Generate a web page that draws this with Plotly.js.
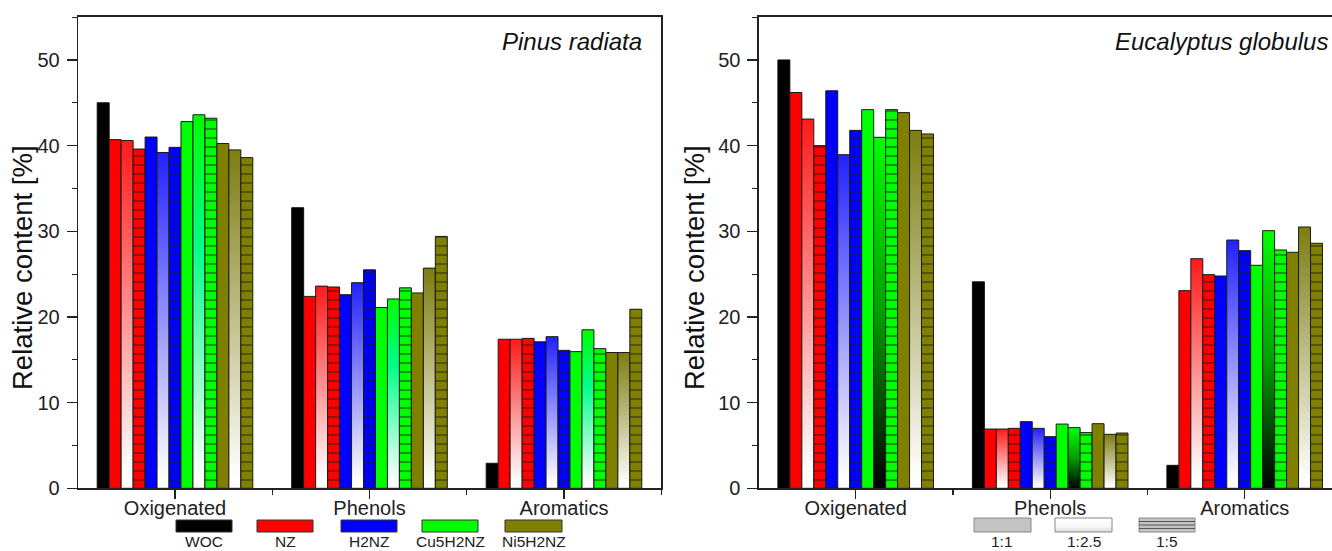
<!DOCTYPE html>
<html>
<head>
<meta charset="utf-8">
<script src="https://cdn.plot.ly/plotly-3.0.1.min.js"></script>
<style>html,body{margin:0;padding:0;background:#fff;}#chart{width:1332px;height:551px;}</style>
</head>
<body>
<div id="chart"></div>
<script>
// ---------- data ----------
const categories = ['Oxigenated', 'Phenols', 'Aromatics'];
const catalysts = ['WOC', 'NZ', 'H2NZ', 'Cu5H2NZ', 'Ni5H2NZ'];
const ratios = ['1:1', '1:2.5', '1:5'];

// Pinus radiata — values per category [Oxigenated, Phenols, Aromatics]
const pinusWOC = [45.0, 32.75, 2.92];
// each catalyst: [ratio 1:1, ratio 1:2.5, ratio 1:5]
const pinusNZ      = [[40.7, 22.4, 17.4], [40.6, 23.6, 17.4], [39.6, 23.5, 17.5]];
const pinusH2NZ    = [[41.0, 22.6, 17.1], [39.2, 24.0, 17.7], [39.8, 25.5, 16.1]];
const pinusCu5H2NZ = [[42.8, 21.1, 15.95], [43.6, 22.1, 18.5], [43.2, 23.4, 16.3]];
const pinusNi5H2NZ = [[40.25, 22.8, 15.85], [39.5, 25.7, 15.85], [38.6, 29.4, 20.9]];

// Eucalyptus globulus
const eucWOC = [50.0, 24.1, 2.68];
const eucNZ      = [[46.2, 6.92, 23.07], [43.1, 6.92, 26.8], [40.0, 7.0, 24.94]];
const eucH2NZ    = [[46.4, 7.78, 24.78], [38.94, 7.0, 28.98], [41.78, 6.03, 27.74]];
const eucCu5H2NZ = [[44.2, 7.5, 26.03], [40.97, 7.08, 30.07], [44.2, 6.5, 27.82]];
const eucNi5H2NZ = [[43.85, 7.54, 27.55], [41.78, 6.3, 30.5], [41.36, 6.45, 28.6]];

const yTitle = 'Relative content [%]';
const panelTitles = ['Pinus radiata', 'Eucalyptus globulus'];

// ---------- styles ----------
const catColors = {WOC: '#000000', NZ: '#ff0000', H2NZ: '#0000ff', Cu5H2NZ: '#00ff00', Ni5H2NZ: '#808000'};
const FONT = 'Liberation Sans, Arial, sans-serif';
const W = 1332, H = 551;
const px = x => x / W;
const py = y => (H - y) / H;

const xIdx = categories.map((c, i) => i);

function makeTraces(panel, wocVals, catData, xa, ya) {
  const traces = [];
  traces.push({
    type: 'bar', x: xIdx, y: wocVals, name: 'WOC', xaxis: xa, yaxis: ya,
    marker: {color: catColors.WOC, line: {color: '#111', width: 1}},
    hovertemplate: '%{y}<extra>WOC</extra>'
  });
  ['NZ', 'H2NZ', 'Cu5H2NZ', 'Ni5H2NZ'].forEach(cat => {
    catData[cat].forEach((vals, r) => {
      const col = catColors[cat];
      const t = {
        type: 'bar', x: xIdx, y: vals, name: cat + ' ' + ratios[r], xaxis: xa, yaxis: ya,
        marker: {color: col, line: {color: '#1a1a1a', width: 1}},
        hovertemplate: '%{y}<extra>' + cat + ' ' + ratios[r] + '</extra>'
      };
      if (r === 1) t.meta = {grad: 'grad_' + panel + '_' + cat};
      if (r === 2) t.marker.pattern = {shape: '-', fillmode: 'overlay', bgcolor: col, fgcolor: '#1a1a1a', fgopacity: 0.85, size: 9, solidity: 0.12};
      traces.push(t);
    });
  });
  return traces;
}

const traces = [].concat(
  makeTraces('L', pinusWOC, {NZ: pinusNZ, H2NZ: pinusH2NZ, Cu5H2NZ: pinusCu5H2NZ, Ni5H2NZ: pinusNi5H2NZ}, 'x', 'y'),
  makeTraces('R', eucWOC, {NZ: eucNZ, H2NZ: eucH2NZ, Cu5H2NZ: eucCu5H2NZ, Ni5H2NZ: eucNi5H2NZ}, 'x2', 'y2')
);

const yTop = 16.5, yBot = 488.3;
const yDomain = [py(yBot), py(yTop)];

function xAxis(domain, range, anchor) {
  return {
    domain: domain, range: range, type: 'linear', anchor: anchor,
    tickmode: 'array', tickvals: xIdx, ticktext: categories,
    ticks: 'outside', ticklen: 9, tickwidth: 1.2, tickcolor: '#222',
    ticklabelstandoff: -8,
    showline: true, linecolor: '#222', linewidth: 1.3, mirror: true,
    showgrid: false, zeroline: false,
    minor: {tickmode: 'array', tickvals: [-0.5, 0.5, 1.5, 2.5], ticks: 'outside', ticklen: 5, tickwidth: 1.2, tickcolor: '#222', showgrid: false},
    tickfont: {family: FONT, size: 20, color: '#222'}, fixedrange: true
  };
}
function yAxis(domain, anchor, mirror) {
  return {
    domain: domain, range: [0, 55.07], anchor: anchor,
    tickmode: 'linear', tick0: 0, dtick: 10,
    ticks: 'outside', ticklen: 10, tickwidth: 1.2, tickcolor: '#222',
    ticklabelstandoff: 3,
    minor: {dtick: 5, ticks: 'outside', ticklen: 5, tickwidth: 1.2, tickcolor: '#222', showgrid: false},
    showline: true, linecolor: '#222', linewidth: 1.3, mirror: mirror,
    showgrid: false, zeroline: false,
    tickfont: {family: FONT, size: 20, color: '#222'},
    fixedrange: true
  };
}

const xL = [78, 661.25], xR = [758.7, 1332];
const cat0L = 175, cat0R = 855.7, unit = 194.5;

const legendCats = [
  {name: 'WOC', x0: 176, x1: 232},
  {name: 'NZ', x0: 257, x1: 313},
  {name: 'H2NZ', x0: 341, x1: 397},
  {name: 'Cu5H2NZ', x0: 422, x1: 478},
  {name: 'Ni5H2NZ', x0: 505, x1: 562}
];
const legendRatios = [
  {name: '1:1', x0: 974, x1: 1031},
  {name: '1:2.5', x0: 1055, x1: 1112},
  {name: '1:5', x0: 1139, x1: 1195}
];

const shapes = [];
const annotations = [];
const legendFont = {family: FONT, size: 15.5, color: '#222'};
legendCats.forEach(l => {
  shapes.push({type: 'rect', xref: 'paper', yref: 'paper', x0: px(l.x0), x1: px(l.x1), y0: py(532), y1: py(520),
    fillcolor: catColors[l.name], line: {color: '#333', width: 1}});
  annotations.push({xref: 'paper', yref: 'paper', x: px((l.x0 + l.x1) / 2), y: py(551), text: l.name, showarrow: false,
    xanchor: 'center', yanchor: 'bottom', borderpad: 0, font: legendFont});
});
legendRatios.forEach((l, i) => {
  shapes.push({type: 'rect', xref: 'paper', yref: 'paper', x0: px(l.x0), x1: px(l.x1), y0: py(532), y1: py(518),
    fillcolor: i === 1 ? '#f4f4f4' : '#c4c4c4', line: {color: '#888', width: 1}, name: 'legend_' + l.name});
  annotations.push({xref: 'paper', yref: 'paper', x: px((l.x0 + l.x1) / 2), y: py(551), text: l.name, showarrow: false,
    xanchor: 'center', yanchor: 'bottom', borderpad: 0, font: legendFont});
});
[521.5, 525, 528.5].forEach(yy => {
  shapes.push({type: 'line', xref: 'paper', yref: 'paper', x0: px(1139), x1: px(1195), y0: py(yy), y1: py(yy),
    line: {color: '#555', width: 1}});
});
annotations.push({xref: 'paper', yref: 'paper', x: px(644), y: py(41), text: panelTitles[0], showarrow: false,
  xanchor: 'right', yanchor: 'middle', font: {family: FONT, size: 24, color: '#111', style: 'italic'}});
annotations.push({xref: 'paper', yref: 'paper', x: px(1330), y: py(41), text: panelTitles[1], showarrow: false,
  xanchor: 'right', yanchor: 'middle', font: {family: FONT, size: 24, color: '#111', style: 'italic'}});
// y-axis titles
[[22, 268], [694, 268]].forEach(p => {
  annotations.push({xref: 'paper', yref: 'paper', x: px(p[0]), y: py(p[1]), text: yTitle, showarrow: false,
    textangle: -90, xanchor: 'center', yanchor: 'middle', borderpad: 0,
    font: {family: FONT, size: 27.5, color: '#111'}});
});

const layout = {
  width: W, height: H,
  margin: {l: 0, r: 0, t: 0, b: 0, autoexpand: false},
  paper_bgcolor: '#fff', plot_bgcolor: '#fff',
  showlegend: false,
  barmode: 'group', bargap: 0.2, bargroupgap: 0,
  font: {family: FONT, color: '#222'},
  xaxis: xAxis([px(xL[0]), px(xL[1])], [(xL[0] - cat0L) / unit, (xL[1] - cat0L) / unit], 'y'),
  yaxis: yAxis(yDomain, 'x', true),
  xaxis2: xAxis([px(xR[0]), 1], [(xR[0] - cat0R) / unit, (xR[1] - cat0R) / unit], 'y2'),
  yaxis2: yAxis(yDomain, 'x2', false),
  shapes: shapes,
  annotations: annotations
};

const gradients = {
  grad_L_NZ: [['0', '#ff1a1a'], ['0.95', '#ffffff']],
  grad_L_H2NZ: [['0', '#2222ff'], ['0.97', '#ffffff']],
  grad_L_Cu5H2NZ: [['0', '#00ff00'], ['0.35', '#00ff88'], ['0.97', '#ffffff']],
  grad_L_Ni5H2NZ: [['0', '#7d7d10'], ['0.97', '#ffffff']],
  grad_R_NZ: [['0', '#ff1a1a'], ['0.95', '#ffffff']],
  grad_R_H2NZ: [['0', '#2222ff'], ['0.97', '#ffffff']],
  grad_R_Cu5H2NZ: [['0', '#00ff00'], ['0.5', '#00a000'], ['1', '#000000']],
  grad_R_Ni5H2NZ: [['0', '#7d7d10'], ['0.97', '#ffffff']],
  grad_legend: [['0', '#ffffff'], ['0.6', '#f8f8f8'], ['1', '#d8d8d8']]
};

const gd = document.getElementById('chart');
Plotly.newPlot(gd, traces, layout, {displayModeBar: false, staticPlot: true}).then(() => {
  const svg = gd.querySelector('svg.main-svg');
  const NS = 'http://www.w3.org/2000/svg';
  let defs = svg.querySelector('defs');
  if (!defs) { defs = document.createElementNS(NS, 'defs'); svg.insertBefore(defs, svg.firstChild); }
  Object.keys(gradients).forEach(id => {
    const lg = document.createElementNS(NS, 'linearGradient');
    lg.setAttribute('id', id);
    lg.setAttribute('x1', '0'); lg.setAttribute('y1', '0');
    lg.setAttribute('x2', '0'); lg.setAttribute('y2', '1');
    gradients[id].forEach(s => {
      const st = document.createElementNS(NS, 'stop');
      st.setAttribute('offset', s[0]);
      st.setAttribute('stop-color', s[1]);
      lg.appendChild(st);
    });
    defs.appendChild(lg);
  });
  gd.querySelectorAll('g.trace.bars').forEach(g => {
    const cd = g.__data__;
    const tr = cd && cd[0] && cd[0].trace;
    if (tr && tr.meta && tr.meta.grad) {
      g.querySelectorAll('path').forEach(p => { p.style.fill = 'url(#' + tr.meta.grad + ')'; });
    }
  });
  const idx = shapes.findIndex(s => s.name === 'legend_1:2.5');
  const sp = gd.querySelector('.shapelayer path[data-index="' + idx + '"]');
  if (sp) sp.style.fill = 'url(#grad_legend)';
});
</script>
</body>
</html>
